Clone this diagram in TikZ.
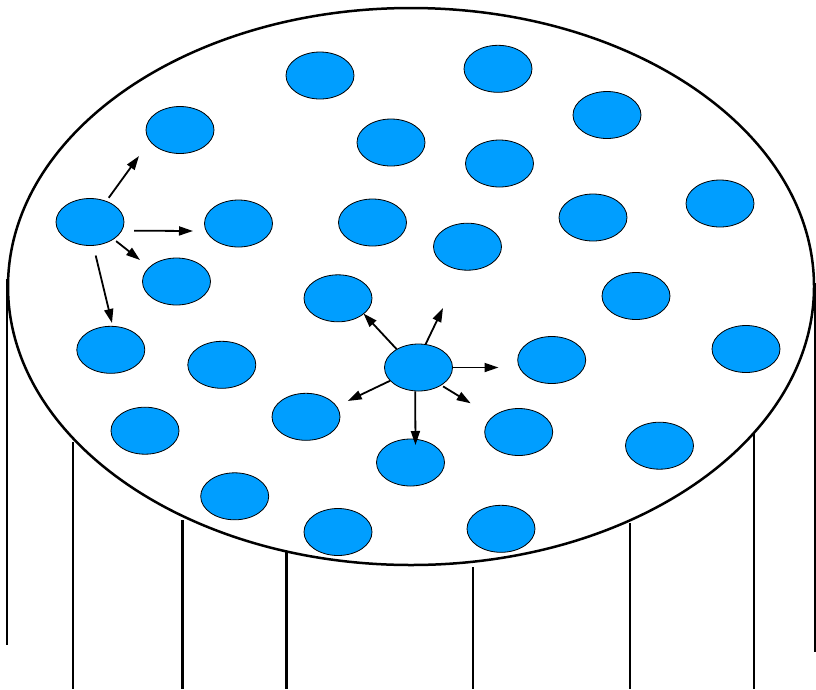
\documentclass[tikz,border=0pt]{standalone}
\usetikzlibrary{arrows.meta,shapes.geometric}
\definecolor{dotblue}{RGB}{0,158,255}
\begin{document}
\begin{tikzpicture}[x=1pt,y=-1pt,
  dot/.style={ellipse,draw=black,line width=0.8pt,fill=dotblue,minimum width=68pt,minimum height=47pt,inner sep=0pt},
  arr/.style={line width=1.8pt,-{Triangle[length=14pt,width=9pt]}},
  rim/.style={line width=2.5pt},
  post/.style={line width=2.3pt}]
\useasboundingbox (0,0) rectangle (816,689);
% vertical lines
\draw[post] (7,279) -- (7,645);
\draw[post] (73,442) -- (73,689);
\draw[post] (182.5,520) -- (182.5,689);
\draw[post] (286.5,551) -- (286.5,689);
\draw[post] (473,567) -- (473,689);
\draw[post] (630,523) -- (630,689);
\draw[post] (754,433) -- (754,689);
\draw[post] (815,283) -- (815,652);
% top surface
\draw[rim,fill=white] (411,286.5) ellipse [x radius=403, y radius=278.5];
% dots
\node[dot] (d1) at (320,75.5) {};
\node[dot] (d2) at (498,68.8) {};
\node[dot] (d3) at (180,130) {};
\node[dot] (d4) at (607,115) {};
\node[dot] (d5) at (391,142.5) {};
\node[dot] (d6) at (499.5,163.5) {};
\node[dot] (L) at (90,222) {};
\node[dot] (d8) at (238.5,223.5) {};
\node[dot] (d9) at (372.5,222.5) {};
\node[dot] (d10) at (593,217.5) {};
\node[dot] (d11) at (720,203.5) {};
\node[dot] (d12) at (467.5,246.7) {};
\node[dot] (d13) at (176.5,281.5) {};
\node[dot] (d14) at (338,298.3) {};
\node[dot] (d15) at (636,296) {};
\node[dot] (d16) at (110.8,349.8) {};
\node[dot] (d17) at (221.8,364.8) {};
\node[dot] (C) at (418.5,367.5) {};
\node[dot] (d19) at (551.7,360) {};
\node[dot] (d20) at (746,349) {};
\node[dot] (d21) at (306,416.8) {};
\node[dot] (d22) at (518.7,432) {};
\node[dot] (d23) at (145,430.7) {};
\node[dot] (d24) at (659.5,445.7) {};
\node[dot] (d25) at (410.5,462.5) {};
\node[dot] (d26) at (234.7,496.3) {};
\node[dot] (d27) at (338,532) {};
\node[dot] (d28) at (501,528.8) {};
% arrow end points
\coordinate (a1) at (139,156);
\coordinate (a2) at (193,231);
\coordinate (a3) at (140,260);
\coordinate (a4) at (112,323);
\coordinate (b1) at (363.5,313.5);
\coordinate (b2) at (443,308);
\coordinate (b3) at (498.5,367.5);
\coordinate (b4) at (470.7,403.3);
\coordinate (b5) at (415.5,445);
\coordinate (b6) at (347.7,401);
% arrows
\draw[arr,shorten <=4pt] (L.52) -- (a1);
\draw[arr,shorten <=12pt] (L.-15) -- (a2);
\draw[arr,shorten <=3pt] (L.-36) -- (a3);
\draw[arr,shorten <=10pt] (L.-82) -- (a4);
\draw[arr] (C.140) -- (b1);
\draw[arr] (C.73) -- (b2);
\draw[arr] (C.east) -- (b3);
\draw[arr,shorten <=2pt] (C.-38) -- (b4);
\draw[arr] (C.-98) -- (b5);
\draw[arr] (C.205) -- (b6);
\end{tikzpicture}
\end{document}
